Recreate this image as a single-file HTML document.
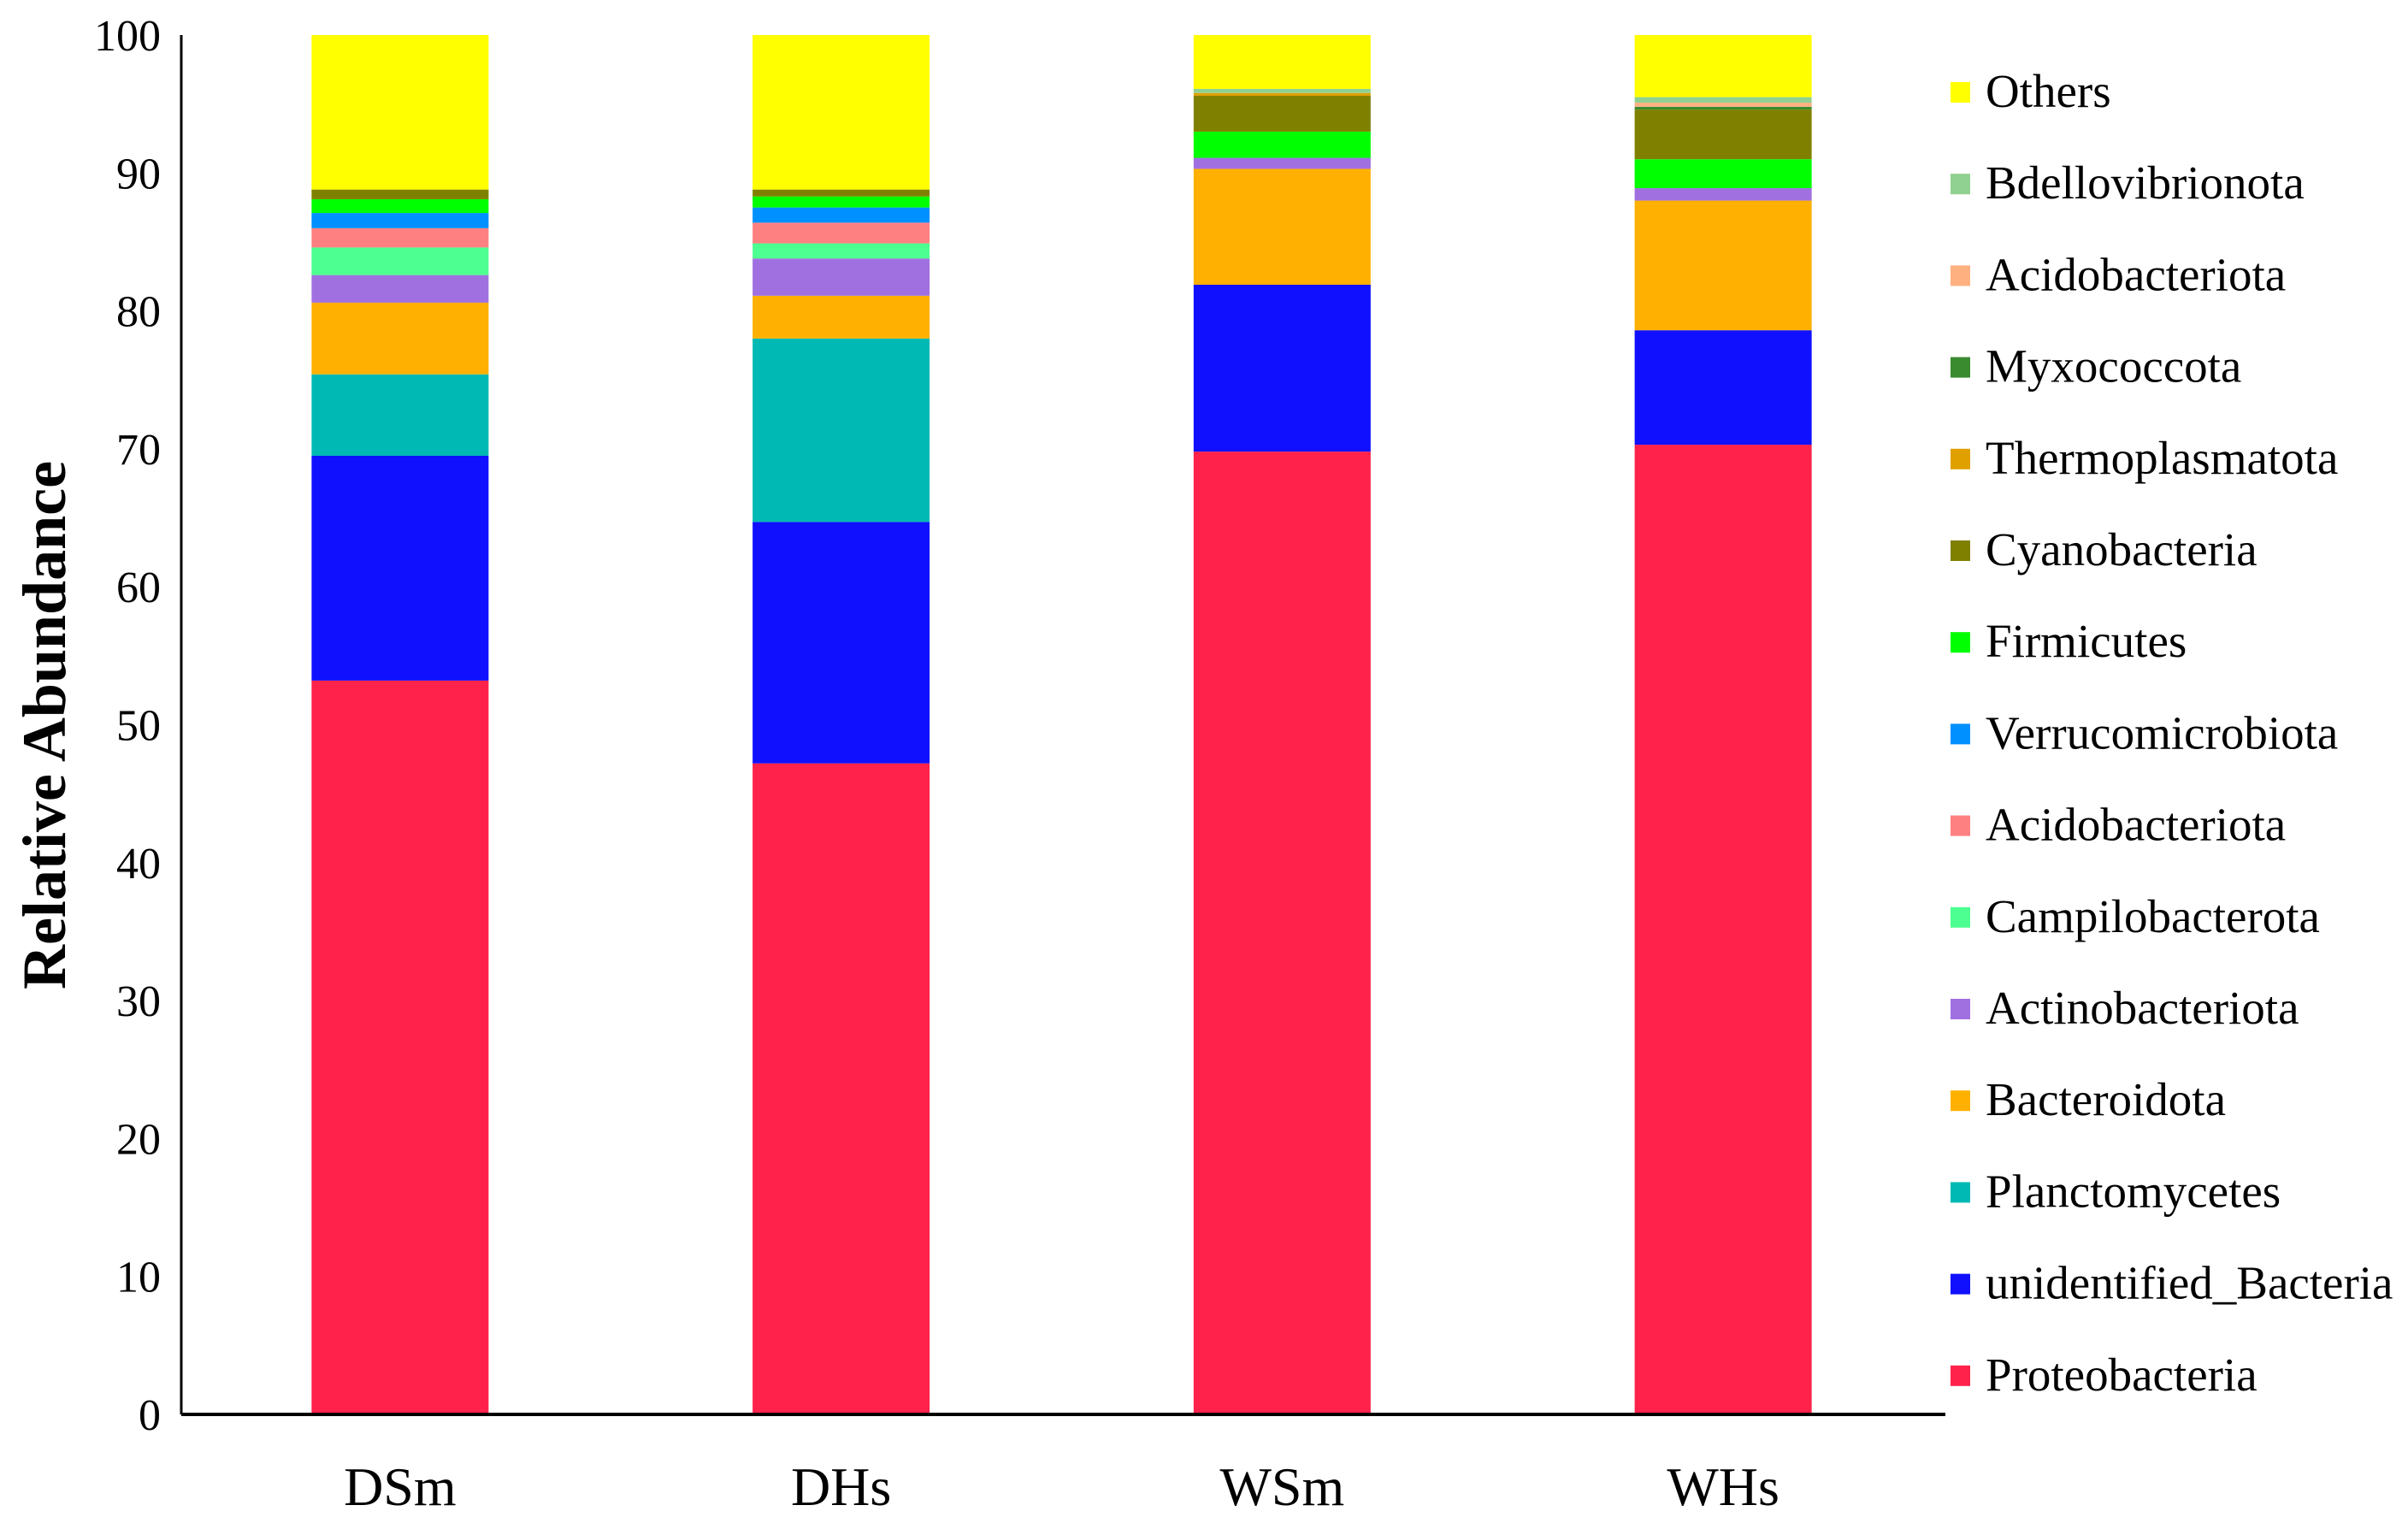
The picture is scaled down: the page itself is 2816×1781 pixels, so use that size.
<!DOCTYPE html>
<html><head><meta charset="utf-8"><style>
html,body{margin:0;padding:0;background:#fff;}
svg{display:block;font-family:"Liberation Serif",serif;}
</style></head><body>
<svg id="chart" width="2816" height="1781" viewBox="0 0 2816 1781" xmlns="http://www.w3.org/2000/svg">
<rect width="2816" height="1781" fill="#fff"/>
<g id="bars"></g>
<g id="axes"></g>
<g id="legend"></g>
<text transform="translate(76,848) rotate(-90)" text-anchor="middle" font-size="72" font-weight="bold">Relative Abundance</text>
</svg>
<script>
const categories = ["DSm","DHs","WSm","WHs"];
const seriesNames = ["Proteobacteria","unidentified_Bacteria","Planctomycetes","Bacteroidota","Actinobacteriota","Campilobacterota","Acidobacteriota","Verrucomicrobiota","Firmicutes","Cyanobacteria","Thermoplasmatota","Myxococcota","Acidobacteriota","Bdellovibrionota","Others"];
const seriesColors = ["#ff224a","#1010ff","#00b9b4","#ffb000","#a070e0","#4cff90","#ff8080","#0090ff","#00ff00","#808000","#e0a000","#3a8a30","#ffb080","#90d090","#ffff00"];
const valDSm = [53.2,16.3,5.9,5.2,2.0,2.0,1.4,1.1,1.0,0.7,0,0,0,0,11.2];
const valDHs = [47.2,17.5,13.3,3.1,2.7,1.1,1.5,1.1,0.8,0.5,0,0,0,0,11.2];
const valWSm = [69.8,12.1,0,8.4,0.8,0,0,0,1.9,2.6,0.2,0,0,0.3,3.9];
const valWHs = [70.3,8.3,0,9.4,0.9,0,0,0,2.1,3.6,0,0.2,0.3,0.4,4.5];
const values = [valDSm,valDHs,valWSm,valWHs];
const yTicks = [0,10,20,30,40,50,60,70,80,90,100];

const NS="http://www.w3.org/2000/svg";
const X0=212, X1=2275, Y0=1654, Y1=41;
const yScale=v=>Y0-(v/100)*(Y0-Y1);
const band=(X1-X0)/categories.length;
const barW=207;
const xCenter=i=>X0+band*(i+0.5)-2;
function mk(tag,attrs,parent){const e=document.createElementNS(NS,tag);for(const k in attrs)e.setAttribute(k,attrs[k]);parent.appendChild(e);return e;}
const gb=document.getElementById('bars'), ga=document.getElementById('axes'), gl=document.getElementById('legend');
categories.forEach((c,i)=>{
  let acc=0;
  values[i].forEach((v,s)=>{
    if(v<=0){return;}
    const r=mk('rect',{x:xCenter(i)-barW/2,y:yScale(acc+v),width:barW,height:yScale(acc)-yScale(acc+v),fill:seriesColors[s]},gb);
    
    
    acc+=v;
  });
  const t=mk('text',{x:xCenter(i),y:1760,'text-anchor':'middle','font-size':'64'},ga);
  t.textContent=c;
  
  
});
const yl=mk('line',{x1:X0,y1:Y1,x2:X0,y2:Y0,stroke:'#000','stroke-width':'3'},ga);


const xl=mk('line',{x1:X0,y1:Y0,x2:X1,y2:Y0,stroke:'#000','stroke-width':'4'},ga);


yTicks.forEach(v=>{
  const t=mk('text',{x:188,y:yScale(v)+18,'text-anchor':'end','font-size':'52'},ga);
  t.textContent=v;
  
  
});
for(let k=0;k<seriesNames.length;k++){
  const s=seriesNames.length-1-k;
  const y=108+k*107.2;
  const sq=mk('rect',{x:2281,y:y-12,width:23,height:24,fill:seriesColors[s]},gl);
  
  
  const t=mk('text',{x:2322,y:y+17,'font-size':'55'},gl);
  t.textContent=seriesNames[s];
  
  
}
</script>
</body></html>
